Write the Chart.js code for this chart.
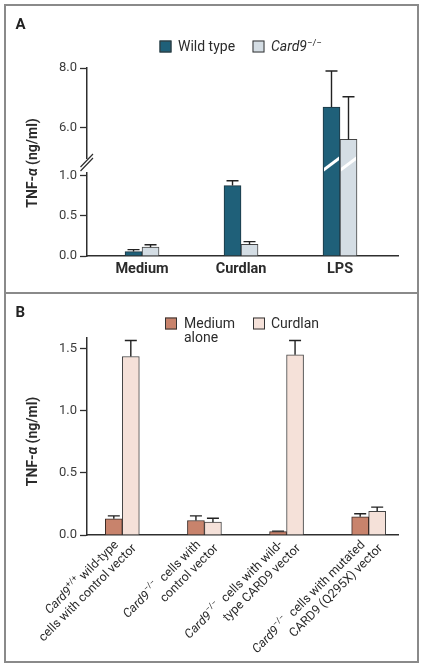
<!DOCTYPE html>
<html><head><meta charset="utf-8">
<script src="https://cdn.jsdelivr.net/npm/chart.js@4/dist/chart.umd.min.js"></script>
<style>
html,body{margin:0;padding:0;background:#fff;width:423px;height:669px;overflow:hidden}
#frame{position:absolute;left:4px;top:4px;width:415px;height:659px;box-sizing:border-box;border:2px solid #8a8a8a}
#divider{position:absolute;left:4px;top:292px;width:415px;height:2px;background:#8a8a8a}
canvas{position:absolute;left:0}
#cA{top:0}
#cB{top:294px}
</style></head><body>
<canvas id="cA" width="423" height="294"></canvas>
<canvas id="cB" width="423" height="375"></canvas>
<div id="frame"></div><div id="divider"></div>
<script>
// ---------- Panel A data ----------
const categoriesA = ['Medium', 'Curdlan', 'LPS'];
const seriesNamesA = ['Wild type', '_Card9_^−/−^'];
const wildType = [0.055, 0.88, 6.7];
const wildTypeSem = [0.025, 0.06, 1.2];
const card9KO = [0.11, 0.145, 5.62];
const card9KOSem = [0.03, 0.035, 1.42];
const yTicksA = [0, 0.5, 1.0, 6.0, 8.0];
const yBreakA = [1.15, 4.8];

// ---------- Panel B data ----------
const categoriesB = [
  ['_Card9_^+/+^ wild-type', 'cells with control vector'],
  ['_Card9_^−/−^  cells with', 'control vector'],
  ['_Card9_^−/−^  cells with wild-', 'type CARD9 vector'],
  ['_Card9_^−/−^  cells with mutated', 'CARD9 (Q295X) vector']
];
const seriesNamesB = [['Medium', 'alone'], ['Curdlan']];
const mediumAlone = [0.13, 0.117, 0.027, 0.146];
const mediumAloneSem = [0.024, 0.037, 0.004, 0.025];
const curdlanB = [1.436, 0.103, 1.45, 0.191];
const curdlanBSem = [0.129, 0.032, 0.115, 0.033];
const yTicksB = [0, 0.5, 1.0, 1.5];

const yTitle = 'TNF-_α_ (ng/ml)';
const FONT = 'Roboto';
const TEXT = '#2b2b2b';
const AXIS = '#2e2e2e';

// ---------- rich text helpers ----------
function parseRich(str) {
  const segs = []; let it = false, sp = false, buf = '';
  for (const ch of str) {
    if (ch === '_' || ch === '^') {
      if (buf) segs.push({t: buf, i: it, s: sp});
      buf = '';
      if (ch === '_') it = !it; else sp = !sp;
    } else buf += ch;
  }
  if (buf) segs.push({t: buf, i: it, s: sp});
  return segs;
}
function fontFor(seg, size, weight) {
  const sz = seg.s ? size * 0.68 : size;
  return (seg.i ? 'italic ' : '') + weight + ' ' + sz + 'px ' + FONT;
}
function drawRich(ctx, str, x, y, size, weight, align, color) {
  const segs = parseRich(str);
  let w = 0;
  for (const s of segs) { ctx.font = fontFor(s, size, weight); w += ctx.measureText(s.t).width; }
  let cx = align === 'right' ? x - w : align === 'center' ? x - w / 2 : x;
  ctx.fillStyle = color; ctx.textAlign = 'left';
  for (const s of segs) {
    ctx.font = fontFor(s, size, weight);
    ctx.fillText(s.t, cx, s.s ? y - size * 0.38 : y);
    cx += ctx.measureText(s.t).width;
  }
}

// ---------- broken linear scale ----------
class BrokenLinearScale extends Chart.LinearScale {
  getPixelForValue(value) {
    const b = this.options.brk;
    let t;
    if (value <= b.low) t = (value - this.min) / (b.low - this.min) * b.frac;
    else if (value >= b.high) t = b.frac + (value - b.high) / (this.max - b.high) * (1 - b.frac);
    else t = b.frac;
    return this.getPixelForDecimal(t);
  }
  getValueForPixel(pixel) {
    const b = this.options.brk;
    const t = this.getDecimalForPixel(pixel);
    if (t <= b.frac) return this.min + t / b.frac * (b.low - this.min);
    return b.high + (t - b.frac) / (1 - b.frac) * (this.max - b.high);
  }
}
BrokenLinearScale.id = 'brokenLinear';
BrokenLinearScale.defaults = Chart.LinearScale.defaults;
Chart.register(BrokenLinearScale);

// ---------- shared plugins ----------
const errorBars = {
  id: 'errorBars',
  afterDatasetsDraw(chart) {
    const ctx = chart.ctx, ys = chart.scales.y;
    ctx.save(); ctx.strokeStyle = '#222'; ctx.lineWidth = 1.4;
    chart.data.datasets.forEach((ds, di) => {
      chart.getDatasetMeta(di).data.forEach((bar, i) => {
        const v = ds.data[i].y, top = ys.getPixelForValue(v + ds.sem[i]);
        ctx.beginPath();
        ctx.moveTo(bar.x, bar.y); ctx.lineTo(bar.x, top);
        ctx.moveTo(bar.x - 6, top); ctx.lineTo(bar.x + 6, top);
        ctx.stroke();
      });
    });
    ctx.restore();
  }
};

function legendBox(ctx, x, y, color) {
  ctx.fillStyle = color; ctx.fillRect(x, y, 12, 12);
  ctx.strokeStyle = '#333'; ctx.lineWidth = 1; ctx.strokeRect(x + 0.5, y + 0.5, 11, 11);
}
function drawYTitle(ctx, cx, cy) {
  ctx.save(); ctx.translate(cx, cy); ctx.rotate(-Math.PI / 2);
  ctx.textBaseline = 'middle';
  drawRich(ctx, yTitle, 0, 0, 14, 'bold', 'center', TEXT);
  ctx.restore();
}

const common = (yScale, xScale, pad) => ({
  responsive: false, animation: false, devicePixelRatio: 1, events: [],
  layout: {padding: pad},
  plugins: {legend: {display: false}, tooltip: {enabled: false}},
  scales: {x: xScale, y: yScale}
});

// ---------- Chart A ----------
const colWT = '#1f6079', colKO = '#d4dde4';
const annotA = {
  id: 'annotA',
  afterDatasetsDraw(chart) {
    const ctx = chart.ctx, ys = chart.scales.y;
    const bp = ys.getPixelForValue(yBreakA[0]);
    chart.data.datasets.forEach((ds, di) => {
      chart.getDatasetMeta(di).data.forEach((bar, i) => {
        if (ds.data[i].y > yBreakA[1]) {
          const h = bar.width / 2;
          ctx.save(); ctx.beginPath(); ctx.rect(bar.x - h + 1, bp - 14, bar.width - 2, 28); ctx.clip();
          ctx.strokeStyle = '#fff'; ctx.lineWidth = 3;
          ctx.beginPath(); ctx.moveTo(bar.x - h - 1, bp + 7); ctx.lineTo(bar.x + h + 1, bp - 7); ctx.stroke();
          ctx.restore();
        }
      });
    });
  },
  afterDraw(chart) {
    const ctx = chart.ctx, ys = chart.scales.y;
    const bp = ys.getPixelForValue(yBreakA[0]);
    const ax = chart.chartArea.left;
    ctx.save();
    ctx.fillStyle = '#fff'; ctx.fillRect(ax - 3, bp - 5, 6, 13);
    ctx.strokeStyle = AXIS; ctx.lineWidth = 1.2;
    ctx.beginPath();
    ctx.moveTo(ax - 6.5, bp + 7); ctx.lineTo(ax + 6, bp - 6);
    ctx.moveTo(ax - 6.5, bp + 3); ctx.lineTo(ax + 6, bp - 10);
    ctx.stroke();
    ctx.textBaseline = 'alphabetic';
    drawRich(ctx, 'A', 15.5, 28.5, 15, 'bold', 'left', '#222');
    legendBox(ctx, 159.5, 40.5, colWT);
    drawRich(ctx, seriesNamesA[0], 178, 51, 14, 'normal', 'left', TEXT);
    legendBox(ctx, 252.5, 40.5, colKO);
    drawRich(ctx, seriesNamesA[1], 271, 51, 14, 'normal', 'left', TEXT);
    drawYTitle(ctx, 33, 163);
    ctx.restore();
  }
};

new Chart(document.getElementById('cA'), {
  type: 'bar',
  data: {datasets: [
    {label: seriesNamesA[0], data: wildType.map((v, i) => ({x: i, y: v})), sem: wildTypeSem,
     backgroundColor: colWT, borderColor: '#1d3540', borderWidth: 1, barThickness: 17},
    {label: seriesNamesA[1], data: card9KO.map((v, i) => ({x: i, y: v})), sem: card9KOSem,
     backgroundColor: colKO, borderColor: '#444', borderWidth: 1, barThickness: 17}
  ]},
  options: common(
    {type: 'brokenLinear', min: 0, max: 8, brk: {low: yBreakA[0], high: yBreakA[1], frac: 0.4894},
     afterFit(s) { s.width = 87; },
     afterBuildTicks(s) { s.ticks = yTicksA.map(v => ({value: v})); },
     grid: {drawOnChartArea: false, drawTicks: true, tickLength: 7, tickColor: AXIS, tickWidth: 1.3},
     border: {color: AXIS, width: 1.5},
     ticks: {padding: 3, color: '#3c3c3c', font: {family: FONT, size: 13}, callback: v => Number(v).toFixed(1)}},
    {type: 'linear', min: -0.556, max: 2.586, offset: false,
     afterFit(s) { s.height = 38; },
     afterBuildTicks(s) { s.ticks = categoriesA.map((_, i) => ({value: i})); },
     grid: {display: false, drawTicks: false, offset: false},
     border: {display: true, color: AXIS, width: 1.5},
     ticks: {autoSkip: false, maxRotation: 0, padding: 5, color: TEXT,
             font: {family: FONT, size: 14.5, weight: 'bold'}, callback: v => categoriesA[v]}},
    {left: 0, right: 25, top: 68, bottom: 0}
  ),
  plugins: [annotA, errorBars]
});

// ---------- Chart B ----------
const colMed = '#c8836c', colCur = '#f5e1d9';
const annotB = {
  id: 'annotB',
  afterDraw(chart) {
    const ctx = chart.ctx, xs = chart.scales.x, axY = chart.chartArea.bottom;
    ctx.save();
    ctx.textBaseline = 'alphabetic';
    drawRich(ctx, 'B', 15.5, 22.8, 15, 'bold', 'left', '#222');
    legendBox(ctx, 165, 23.5, colMed);
    seriesNamesB[0].forEach((t, j) => drawRich(ctx, t, 184, 34 + j * 14, 14, 'normal', 'left', TEXT));
    legendBox(ctx, 253, 23.5, colCur);
    drawRich(ctx, seriesNamesB[1][0], 271, 34, 14, 'normal', 'left', TEXT);
    drawYTitle(ctx, 33, 441.5 - 294);
    categoriesB.forEach((lines, i) => {
      const cx = xs.getPixelForValue(i);
      ctx.save(); ctx.translate(cx - 5.5, axY + 8); ctx.rotate(-Math.PI / 4);
      ctx.textBaseline = 'middle';
      lines.forEach((ln, j) => drawRich(ctx, ln, j * 10, j * 15, 12.5, 'normal', 'right', TEXT));
      ctx.restore();
    });
    ctx.restore();
  }
};

new Chart(document.getElementById('cB'), {
  type: 'bar',
  data: {datasets: [
    {label: 'Medium alone', data: mediumAlone.map((v, i) => ({x: i, y: v})), sem: mediumAloneSem,
     backgroundColor: colMed, borderColor: '#3a2a25', borderWidth: 1, barThickness: 17},
    {label: seriesNamesB[1][0], data: curdlanB.map((v, i) => ({x: i, y: v})), sem: curdlanBSem,
     backgroundColor: colCur, borderColor: '#444', borderWidth: 1, barThickness: 17}
  ]},
  options: common(
    {type: 'linear', min: 0, max: 1.585,
     afterFit(s) { s.width = 87; },
     afterBuildTicks(s) { s.ticks = yTicksB.map(v => ({value: v})); },
     grid: {drawOnChartArea: false, drawTicks: true, tickLength: 7, tickColor: AXIS, tickWidth: 1.3},
     border: {color: AXIS, width: 1.5},
     ticks: {padding: 3, color: '#3c3c3c', font: {family: FONT, size: 13}, callback: v => Number(v).toFixed(1)}},
    {type: 'linear', min: -0.43, max: 3.357, offset: false,
     afterFit(s) { s.height = 134; },
     afterBuildTicks(s) { s.ticks = categoriesB.map((_, i) => ({value: i})); },
     grid: {display: false, drawTicks: false, offset: false},
     border: {display: true, color: AXIS, width: 1.5},
     ticks: {display: false}},
    {left: 0, right: 25, top: 44, bottom: 0}
  ),
  plugins: [annotB, errorBars]
});
</script></body></html>
